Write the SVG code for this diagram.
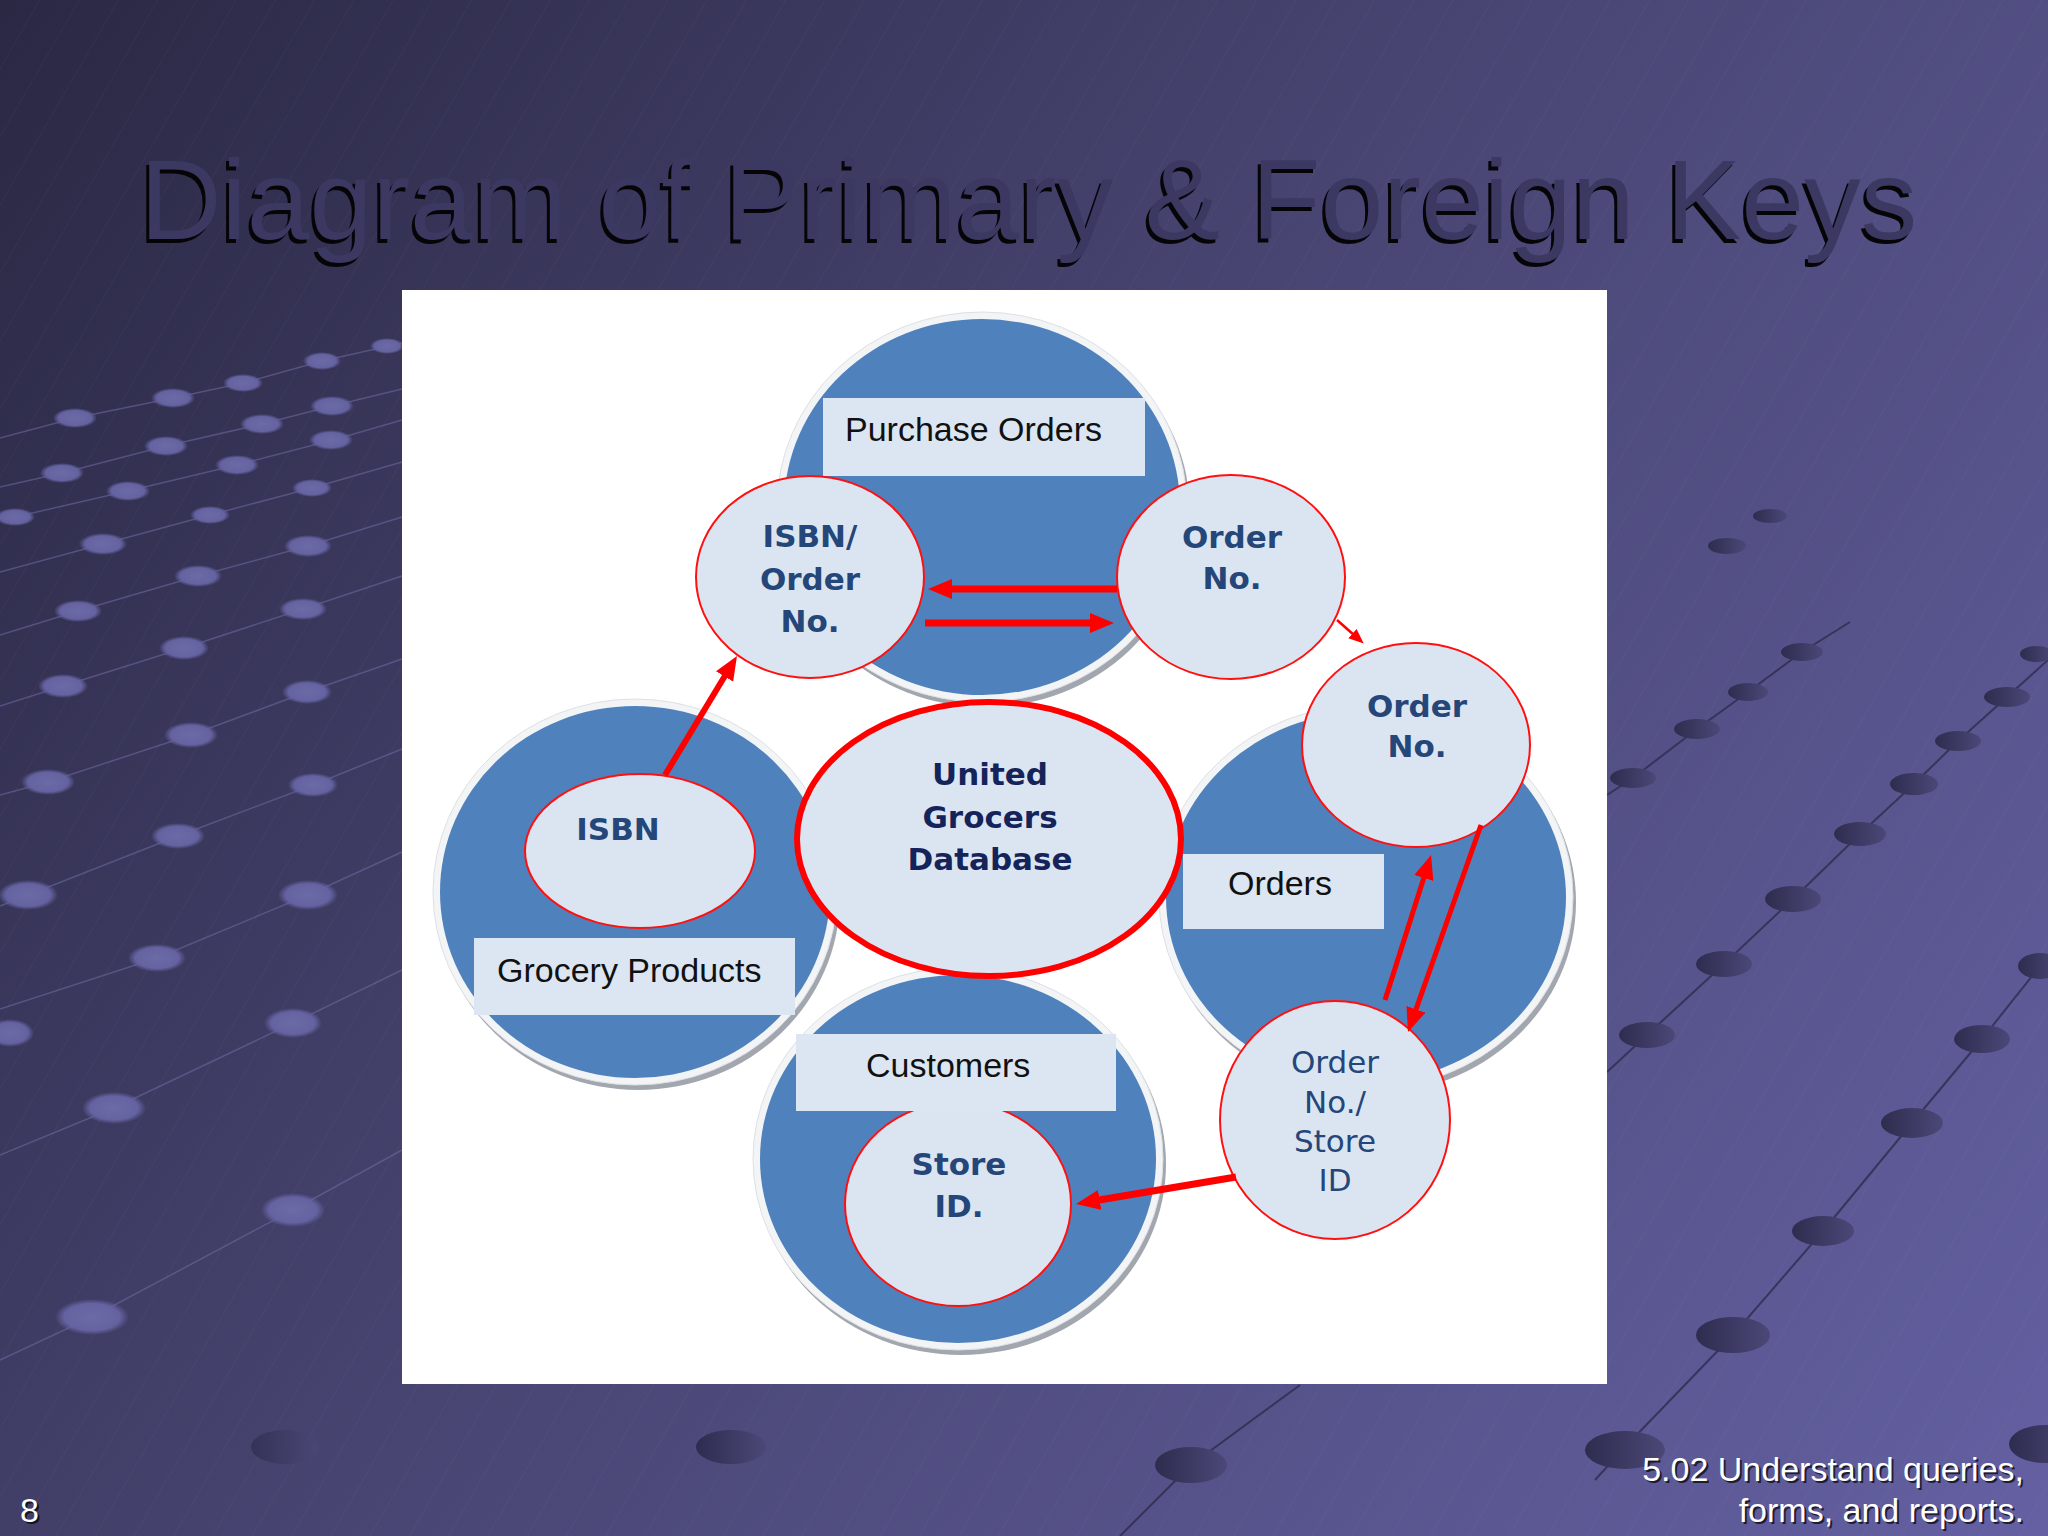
<svg xmlns="http://www.w3.org/2000/svg" width="2048" height="1536" viewBox="0 0 2048 1536">
<defs>
<linearGradient id="bg" x1="0" y1="0" x2="2048" y2="1536" gradientUnits="userSpaceOnUse">
<stop offset="0" stop-color="#2a2843"/>
<stop offset="0.5" stop-color="#4a4776"/>
<stop offset="1" stop-color="#6460a2"/>
</linearGradient>
<radialGradient id="ldot" cx="0.5" cy="0.5" r="0.5">
<stop offset="0" stop-color="#6d6ba6"/>
<stop offset="0.75" stop-color="#6462a0"/>
<stop offset="1" stop-color="#6462a0" stop-opacity="0"/>
</radialGradient>
<linearGradient id="ddot" x1="0" y1="0" x2="1" y2="0">
<stop offset="0" stop-color="#2e2c4e"/>
<stop offset="1" stop-color="#4b4878"/>
</linearGradient>
<pattern id="hatch" width="34" height="34" patternUnits="userSpaceOnUse" patternTransform="rotate(30)">
<line x1="0" y1="0" x2="0" y2="34" stroke="#ffffff" stroke-opacity="0.05" stroke-width="1"/>
</pattern>
<marker id="ah" viewBox="0 0 12 10" refX="1" refY="5" markerWidth="24" markerHeight="20" markerUnits="userSpaceOnUse" orient="auto">
<path d="M0,0 L12,5 L0,10 z" fill="#ff0000"/>
</marker>
<marker id="ahs" viewBox="0 0 12 10" refX="1" refY="5" markerWidth="15" markerHeight="12.5" markerUnits="userSpaceOnUse" orient="auto">
<path d="M0,0 L12,5 L0,10 z" fill="#ff0000"/>
</marker>
<style>
.ldot{fill:url(#ldot)}
.lline{stroke:#7472ac;stroke-width:1.5;stroke-opacity:0.5;fill:none}
.ddot{fill:url(#ddot)}
.dline{stroke:#2e2c4e;stroke-width:2;stroke-opacity:0.8;fill:none}
.rimShadow{fill:#a2a6ae}
.rim{fill:#f3f4f6;stroke:#dde0e5;stroke-width:1}
.blue{fill:#4f81bd}
.box{fill:#dce6f2}
.lbl{font-family:"Liberation Sans",Arial,sans-serif;font-size:34px;fill:#111111}
.key{fill:#dbe5f1;stroke:#ff1010;stroke-width:2}
.ugd{fill:#dbe5f1;stroke:#ff0000;stroke-width:6}
.kt{font-family:"DejaVu Sans",Verdana,sans-serif;font-size:31px;font-weight:bold;fill:#244679;text-anchor:middle}
.kn{font-family:"DejaVu Sans",Verdana,sans-serif;font-size:31px;font-weight:normal;fill:#244679;text-anchor:middle}
.ut{font-family:"DejaVu Sans",Verdana,sans-serif;font-size:31px;font-weight:bold;fill:#14245a;text-anchor:middle}
.arr{stroke:#ff0000;fill:none;stroke-linecap:butt}
.title{font-family:"Liberation Sans",Arial,sans-serif;font-size:113px}
.foot{font-family:"Liberation Sans",Arial,sans-serif;font-size:34px}
</style>
</defs>

<g id="background">
<rect x="0" y="0" width="2048" height="1536" fill="url(#bg)"/>
<rect x="0" y="0" width="2048" height="1536" fill="url(#hatch)"/>
<g id="left-dots">
<polyline class="lline" points="0,438 75,418 173,398 243,383 322,361 402,343"/>
<polyline class="lline" points="0,487 62,473 166,446 262,424 332,406 402,389"/>
<polyline class="lline" points="0,519 15,517 128,491 237,465 333,440 402,420"/>
<polyline class="lline" points="0,572 103,544 210,515 312,488 402,462"/>
<polyline class="lline" points="0,635 78,611 198,576 308,546 402,517"/>
<polyline class="lline" points="0,706 63,686 184,648 303,609 402,576"/>
<polyline class="lline" points="0,795 48,782 191,735 307,692 402,659"/>
<polyline class="lline" points="0,906 28,895 178,836 313,785 402,749"/>
<polyline class="lline" points="0,1009 157,958 308,895 402,852"/>
<polyline class="lline" points="0,1155 114,1108 293,1023 402,970"/>
<polyline class="lline" points="0,1360 92,1317 293,1210 402,1150"/>
<ellipse class="ldot" cx="75" cy="418" rx="22" ry="10"/>
<ellipse class="ldot" cx="173" cy="398" rx="22" ry="10"/>
<ellipse class="ldot" cx="243" cy="383" rx="20" ry="9"/>
<ellipse class="ldot" cx="322" cy="361" rx="19" ry="9"/>
<ellipse class="ldot" cx="387" cy="346" rx="17" ry="8"/>
<ellipse class="ldot" cx="62" cy="473" rx="22" ry="10"/>
<ellipse class="ldot" cx="166" cy="446" rx="22" ry="10"/>
<ellipse class="ldot" cx="262" cy="424" rx="22" ry="10"/>
<ellipse class="ldot" cx="332" cy="406" rx="22" ry="10"/>
<ellipse class="ldot" cx="331" cy="440" rx="22" ry="10"/>
<ellipse class="ldot" cx="128" cy="491" rx="22" ry="10"/>
<ellipse class="ldot" cx="237" cy="465" rx="22" ry="10"/>
<ellipse class="ldot" cx="312" cy="488" rx="20" ry="9"/>
<ellipse class="ldot" cx="15" cy="517" rx="20" ry="9"/>
<ellipse class="ldot" cx="210" cy="515" rx="20" ry="9"/>
<ellipse class="ldot" cx="103" cy="544" rx="24" ry="11"/>
<ellipse class="ldot" cx="308" cy="546" rx="24" ry="11"/>
<ellipse class="ldot" cx="198" cy="576" rx="24" ry="11"/>
<ellipse class="ldot" cx="78" cy="611" rx="24" ry="11"/>
<ellipse class="ldot" cx="303" cy="609" rx="24" ry="11"/>
<ellipse class="ldot" cx="184" cy="648" rx="25" ry="12"/>
<ellipse class="ldot" cx="63" cy="686" rx="25" ry="12"/>
<ellipse class="ldot" cx="307" cy="692" rx="25" ry="12"/>
<ellipse class="ldot" cx="191" cy="735" rx="27" ry="13"/>
<ellipse class="ldot" cx="48" cy="782" rx="27" ry="13"/>
<ellipse class="ldot" cx="313" cy="785" rx="25" ry="12"/>
<ellipse class="ldot" cx="178" cy="836" rx="27" ry="13"/>
<ellipse class="ldot" cx="28" cy="895" rx="30" ry="15"/>
<ellipse class="ldot" cx="308" cy="895" rx="30" ry="15"/>
<ellipse class="ldot" cx="157" cy="958" rx="29" ry="14"/>
<ellipse class="ldot" cx="10" cy="1033" rx="24" ry="14"/>
<ellipse class="ldot" cx="293" cy="1023" rx="29" ry="15"/>
<ellipse class="ldot" cx="114" cy="1108" rx="32" ry="16"/>
<ellipse class="ldot" cx="293" cy="1210" rx="32" ry="17"/>
<ellipse class="ldot" cx="92" cy="1317" rx="37" ry="18"/>
</g>
<g id="right-dots">
<polyline class="dline" points="1595,1480 1625,1447 1733,1335 1823,1231 1912,1123 1982,1039 2040,966 2048,956"/>
<polyline class="dline" points="1607,1072 1647,1035 1724,964 1793,899 1860,834 1914,784 1958,741 2007,697 2048,660"/>
<polyline class="dline" points="1607,795 1633,778 1697,729 1748,692 1802,652 1850,622"/>
<polyline class="dline" points="1120,1536 1191,1465 1300,1385"/>
<ellipse class="ddot" cx="1770" cy="516" rx="17" ry="7"/>
<ellipse class="ddot" cx="1727" cy="546" rx="19" ry="8"/>
<ellipse class="ddot" cx="1802" cy="652" rx="21" ry="9"/>
<ellipse class="ddot" cx="2037" cy="654" rx="17" ry="8"/>
<ellipse class="ddot" cx="1748" cy="692" rx="20" ry="9"/>
<ellipse class="ddot" cx="2007" cy="697" rx="23" ry="10"/>
<ellipse class="ddot" cx="1697" cy="729" rx="23" ry="10"/>
<ellipse class="ddot" cx="1958" cy="741" rx="23" ry="10"/>
<ellipse class="ddot" cx="1633" cy="778" rx="23" ry="10"/>
<ellipse class="ddot" cx="1914" cy="784" rx="24" ry="11"/>
<ellipse class="ddot" cx="1860" cy="834" rx="26" ry="12"/>
<ellipse class="ddot" cx="1793" cy="899" rx="28" ry="13"/>
<ellipse class="ddot" cx="1724" cy="964" rx="28" ry="13"/>
<ellipse class="ddot" cx="2040" cy="966" rx="22" ry="13"/>
<ellipse class="ddot" cx="1647" cy="1035" rx="28" ry="13"/>
<ellipse class="ddot" cx="1982" cy="1039" rx="28" ry="14"/>
<ellipse class="ddot" cx="1912" cy="1123" rx="31" ry="15"/>
<ellipse class="ddot" cx="1823" cy="1231" rx="31" ry="15"/>
<ellipse class="ddot" cx="1733" cy="1335" rx="37" ry="18"/>
<ellipse class="ddot" cx="1625" cy="1450" rx="40" ry="19"/>
<ellipse class="ddot" cx="2045" cy="1444" rx="36" ry="19"/>
<ellipse class="ddot" cx="285" cy="1447" rx="34" ry="17" opacity="0.7"/>
<ellipse class="ddot" cx="731" cy="1447" rx="35" ry="17"/>
<ellipse class="ddot" cx="1191" cy="1465" rx="36" ry="18"/>
</g>
</g>

<g id="title">
<text class="title" x="137" y="243" fill="#050508">Diagram of Primary &amp; Foreign Keys</text>
<text class="title" x="140" y="239" fill="#3b3861">Diagram of Primary &amp; Foreign Keys</text>
</g>

<rect id="panel" x="402" y="290" width="1205" height="1094" fill="#ffffff"/>

<g id="purchase-orders">
<ellipse class="rimShadow" cx="985" cy="512" rx="205" ry="195"/>
<ellipse class="rim" cx="982" cy="507" rx="205" ry="195"/>
<ellipse class="blue" cx="982" cy="507" rx="198" ry="188"/>
<rect class="box" x="823" y="398" width="322" height="78"/>
<text class="lbl" x="845" y="441">Purchase Orders</text>
</g>

<g id="grocery-products">
<ellipse class="rimShadow" cx="638" cy="897" rx="202" ry="193"/>
<ellipse class="rim" cx="635" cy="892" rx="202" ry="193"/>
<ellipse class="blue" cx="635" cy="892" rx="195" ry="186"/>
<rect class="box" x="474" y="938" width="321" height="77"/>
<text class="lbl" x="497" y="982">Grocery Products</text>
</g>

<g id="orders">
<ellipse class="rimShadow" cx="1369" cy="902" rx="207" ry="192"/>
<ellipse class="rim" cx="1366" cy="897" rx="207" ry="192"/>
<ellipse class="blue" cx="1366" cy="897" rx="200" ry="185"/>
<rect class="box" x="1183" y="854" width="201" height="75"/>
<text class="lbl" x="1228" y="895">Orders</text>
</g>

<g id="customers">
<ellipse class="rimShadow" cx="961" cy="1164" rx="205" ry="191"/>
<ellipse class="rim" cx="958" cy="1159" rx="205" ry="191"/>
<ellipse class="blue" cx="958" cy="1159" rx="198" ry="184"/>
<g id="store-id">
<ellipse class="key" cx="958" cy="1204" rx="113" ry="102"/>
<text class="kt" x="959" y="1175">Store</text>
<text class="kt" x="959" y="1217">ID.</text>
</g>
<rect class="box" x="796" y="1034" width="320" height="77"/>
<text class="lbl" x="866" y="1077">Customers</text>
</g>

<g id="united-grocers-database">
<ellipse class="ugd" cx="989" cy="839" rx="192" ry="137"/>
<text class="ut" x="990" y="785">United</text>
<text class="ut" x="990" y="828">Grocers</text>
<text class="ut" x="990" y="870">Database</text>
</g>

<g id="isbn-order-no">
<ellipse class="key" cx="810" cy="577" rx="114" ry="101"/>
<text class="kt" x="810" y="547">ISBN/</text>
<text class="kt" x="810" y="590">Order</text>
<text class="kt" x="810" y="632">No.</text>
</g>

<g id="po-order-no">
<ellipse class="key" cx="1231" cy="577" rx="114" ry="102"/>
<text class="kt" x="1232" y="548">Order</text>
<text class="kt" x="1232" y="589">No.</text>
</g>

<g id="orders-order-no">
<ellipse class="key" cx="1416" cy="745" rx="114" ry="102"/>
<text class="kt" x="1417" y="717">Order</text>
<text class="kt" x="1417" y="757">No.</text>
</g>

<g id="isbn">
<ellipse class="key" cx="640" cy="851" rx="115" ry="77"/>
<text class="kt" x="618" y="840">ISBN</text>
</g>

<g id="order-no-store-id">
<ellipse class="key" cx="1335" cy="1120" rx="115" ry="119"/>
<text class="kn" x="1335" y="1073">Order</text>
<text class="kn" x="1335" y="1113">No./</text>
<text class="kn" x="1335" y="1152">Store</text>
<text class="kn" x="1335" y="1191">ID</text>
</g>

<g id="connectors">
<line class="arr" x1="665" y1="775" x2="725.6" y2="674.8" stroke-width="6" marker-end="url(#ah)"/>
<line class="arr" x1="1117" y1="589" x2="950" y2="589" stroke-width="7" marker-end="url(#ah)"/>
<line class="arr" x1="925" y1="623" x2="1092" y2="623" stroke-width="7" marker-end="url(#ah)"/>
<line class="arr" x1="1337" y1="620" x2="1353.4" y2="634.5" stroke-width="2.5" marker-end="url(#ahs)"/>
<line class="arr" x1="1385" y1="1000" x2="1424.4" y2="876" stroke-width="5" marker-end="url(#ah)"/>
<line class="arr" x1="1481" y1="825" x2="1415.3" y2="1011.3" stroke-width="5" marker-end="url(#ah)"/>
<line class="arr" x1="1236" y1="1177" x2="1097.7" y2="1200.3" stroke-width="7" marker-end="url(#ah)"/>
</g>

<g id="footer">
<text class="foot" x="22" y="1524" fill="#000000" fill-opacity="0.7">8</text>
<text class="foot" x="20" y="1522" fill="#ffffff">8</text>
<text class="foot" x="2026" y="1483" fill="#000000" fill-opacity="0.7" text-anchor="end">5.02 Understand queries,</text>
<text class="foot" x="2024" y="1481" fill="#ffffff" text-anchor="end">5.02 Understand queries,</text>
<text class="foot" x="2026" y="1524" fill="#000000" fill-opacity="0.7" text-anchor="end">forms, and reports.</text>
<text class="foot" x="2024" y="1522" fill="#ffffff" text-anchor="end">forms, and reports.</text>
</g>
</svg>
